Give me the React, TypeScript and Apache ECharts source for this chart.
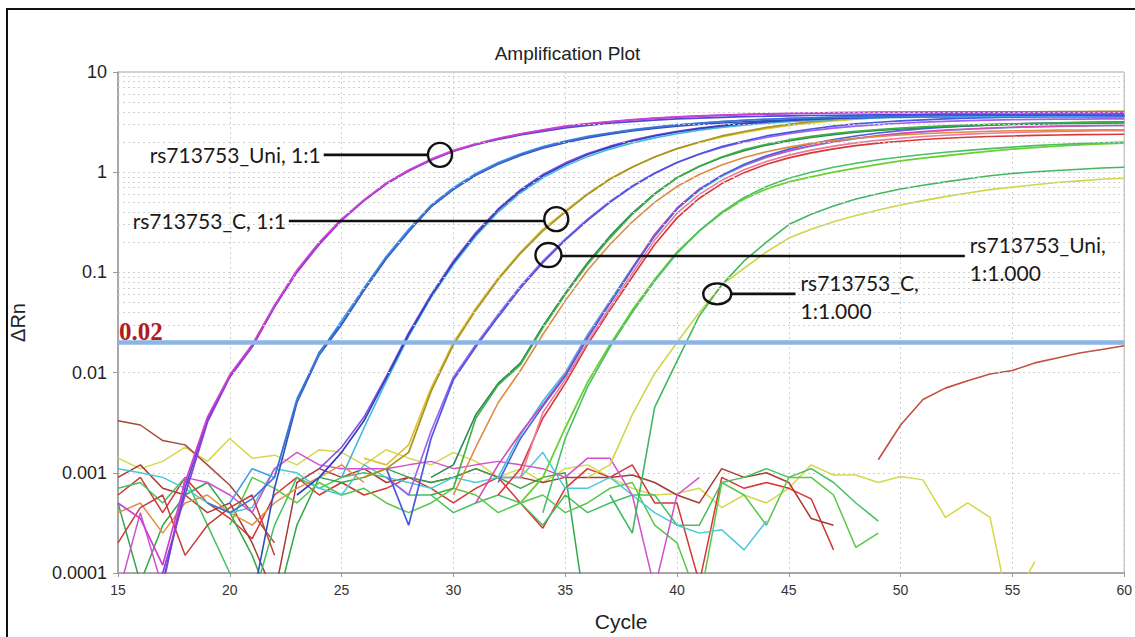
import React, { useEffect, useRef } from 'react';
import * as echarts from 'echarts';

// ---------- axis / labels ----------
const cycleMin = 15;
const cycleMax = 60;
const cycleStep = 5;
const yMin = 0.0001;
const yMax = 10;
const yTickLabels = ['0.0001', '0.001', '0.01', '0.1', '1', '10'];
const thresholdValue = 0.02;
const titleText = 'Amplification Plot';
const xName = 'Cycle';
const yName = 'ΔRn';

// ---------- amplification curves (value per cycle, starting at the given cycle) ----------
const uniA1 = [0.0005, 0.00035, 0.00012, 0.0008, 0.0036, 0.0095, 0.019, 0.047, 0.105, 0.2, 0.34, 0.53, 0.78, 1.05, 1.35, 1.65, 1.92, 2.18, 2.42, 2.65, 2.88, 3.05, 3.2, 3.35, 3.47, 3.57, 3.65, 3.72, 3.78, 3.83, 3.87, 3.9, 3.93, 3.95, 3.97, 3.98, 3.99, 4.0, 4.0, 4.01, 4.01, 4.0, 4.0, 3.99, 3.98, 3.97];
const uniA2 = [0.00006, 0.0001, 0.0006, 0.0032, 0.009, 0.018, 0.045, 0.1, 0.19, 0.33, 0.52, 0.76, 1.03, 1.32, 1.62, 1.9, 2.15, 2.4, 2.62, 2.85, 3.02, 3.18, 3.32, 3.44, 3.54, 3.62, 3.69, 3.75, 3.8, 3.84, 3.87, 3.9, 3.92, 3.93, 3.94, 3.95, 3.95, 3.96, 3.96, 3.95, 3.94, 3.93, 3.92, 3.9, 3.88];
const uniA3 = [0.00008, 0.0007, 0.0034, 0.0092, 0.0185, 0.046, 0.102, 0.195, 0.335, 0.52, 0.77, 1.04, 1.33, 1.62, 1.88, 2.12, 2.35, 2.56, 2.76, 2.93, 3.08, 3.2, 3.31, 3.4, 3.47, 3.53, 3.58, 3.62, 3.65, 3.68, 3.7, 3.72, 3.73, 3.74, 3.75, 3.75, 3.75, 3.74, 3.73, 3.72, 3.71, 3.7, 3.69, 3.68];
const cB1 = [0.0005, 0.0004, 0.00055, 0.0009, 0.0052, 0.016, 0.031, 0.068, 0.14, 0.26, 0.46, 0.68, 0.95, 1.22, 1.5, 1.77, 2.02, 2.25, 2.45, 2.63, 2.8, 2.95, 3.08, 3.2, 3.3, 3.38, 3.45, 3.5, 3.55, 3.59, 3.62, 3.65, 3.67, 3.69, 3.7, 3.71, 3.72, 3.72, 3.72, 3.71, 3.7, 3.69];
const cB2 = [0.0005, 0.0011, 0.0009, 0.0055, 0.0155, 0.033, 0.07, 0.145, 0.27, 0.47, 0.7, 0.97, 1.25, 1.53, 1.8, 2.05, 2.28, 2.48, 2.66, 2.83, 2.98, 3.1, 3.21, 3.3, 3.38, 3.44, 3.49, 3.53, 3.56, 3.58, 3.6, 3.61, 3.62, 3.62, 3.62, 3.61, 3.6, 3.59, 3.58, 3.57, 3.56];
const cB3 = [0.00005, 0.0007, 0.005, 0.015, 0.03, 0.066, 0.137, 0.255, 0.45, 0.67, 0.93, 1.2, 1.47, 1.73, 1.97, 2.2, 2.4, 2.58, 2.74, 2.88, 3.0, 3.1, 3.19, 3.27, 3.34, 3.4, 3.45, 3.49, 3.52, 3.55, 3.57, 3.59, 3.6, 3.61, 3.61, 3.61, 3.6, 3.59, 3.58, 3.57];
const gC1 = [0.0006, 0.0009, 0.0016, 0.0033, 0.0088, 0.024, 0.058, 0.125, 0.24, 0.42, 0.65, 0.92, 1.2, 1.5, 1.78, 2.05, 2.3, 2.52, 2.72, 2.9, 3.05, 3.18, 3.28, 3.37, 3.44, 3.5, 3.55, 3.59, 3.62, 3.64, 3.66, 3.67, 3.68, 3.68, 3.68, 3.67, 3.66, 3.65];
const gC2 = [0.0011, 0.0018, 0.0036, 0.0092, 0.025, 0.06, 0.13, 0.25, 0.43, 0.67, 0.95, 1.24, 1.54, 1.82, 2.09, 2.34, 2.56, 2.76, 2.93, 3.08, 3.21, 3.32, 3.41, 3.49, 3.56, 3.62, 3.67, 3.71, 3.74, 3.76, 3.78, 3.79, 3.8, 3.8, 3.8, 3.79, 3.78];
const gC3 = [0.0009, 0.0028, 0.0082, 0.023, 0.056, 0.12, 0.23, 0.4, 0.62, 0.88, 1.15, 1.43, 1.7, 1.96, 2.2, 2.42, 2.62, 2.8, 2.95, 3.08, 3.19, 3.28, 3.36, 3.42, 3.47, 3.51, 3.54, 3.56, 3.58, 3.59, 3.6, 3.6, 3.6, 3.6, 3.59, 3.58];
const dD1 = [0.0009, 0.0011, 0.0016, 0.0065, 0.019, 0.042, 0.085, 0.155, 0.26, 0.4, 0.6, 0.85, 1.12, 1.42, 1.72, 2.0, 2.3, 2.55, 2.8, 3.0, 3.2, 3.35, 3.48, 3.6, 3.7, 3.78, 3.85, 3.9, 3.94, 3.97, 4.0, 4.02, 4.03, 4.04, 4.05];
const dD2 = [0.0014, 0.0012, 0.0019, 0.007, 0.02, 0.044, 0.088, 0.16, 0.27, 0.41, 0.61, 0.86, 1.13, 1.42, 1.71, 1.98, 2.25, 2.49, 2.72, 2.92, 3.1, 3.25, 3.38, 3.5, 3.6, 3.69, 3.76, 3.82, 3.87, 3.91, 3.94, 3.97, 3.99, 4.0, 4.01];
const eD3 = [0.0011, 0.0003, 0.0022, 0.0085, 0.018, 0.036, 0.07, 0.125, 0.21, 0.33, 0.5, 0.72, 0.97, 1.25, 1.52, 1.8, 2.05, 2.3, 2.5, 2.7, 2.88, 3.03, 3.15, 3.25, 3.33, 3.4, 3.46, 3.5, 3.54, 3.57, 3.59, 3.6, 3.61, 3.62];
const eD4 = [0.0009, 0.0006, 0.0026, 0.009, 0.019, 0.038, 0.073, 0.13, 0.215, 0.34, 0.51, 0.73, 0.98, 1.25, 1.51, 1.77, 2.0, 2.22, 2.42, 2.6, 2.75, 2.88, 2.99, 3.08, 3.16, 3.22, 3.27, 3.31, 3.34, 3.36, 3.38, 3.39, 3.4, 3.4];
const fE1 = [0.0006, 0.0007, 0.0035, 0.0075, 0.012, 0.028, 0.06, 0.12, 0.22, 0.38, 0.6, 0.88, 1.15, 1.42, 1.68, 1.9, 2.1, 2.28, 2.43, 2.56, 2.67, 2.76, 2.84, 2.9, 2.96, 3.0, 3.04, 3.07, 3.1, 3.12, 3.14, 3.15];
const fE2 = [0.0009, 0.0012, 0.0038, 0.0078, 0.0125, 0.029, 0.062, 0.125, 0.23, 0.39, 0.61, 0.88, 1.14, 1.4, 1.64, 1.86, 2.05, 2.22, 2.37, 2.5, 2.61, 2.7, 2.78, 2.85, 2.9, 2.95, 2.99, 3.02, 3.05, 3.07, 3.09, 3.1];
const fE3 = [0.0006, 0.0018, 0.005, 0.0105, 0.024, 0.052, 0.105, 0.19, 0.32, 0.5, 0.72, 0.95, 1.18, 1.4, 1.6, 1.78, 1.94, 2.07, 2.18, 2.27, 2.35, 2.42, 2.48, 2.52, 2.56, 2.59, 2.61, 2.63, 2.64, 2.65, 2.65];
const hF1 = [0.0005, 0.0012, 0.0025, 0.0048, 0.0095, 0.023, 0.05, 0.11, 0.24, 0.44, 0.68, 0.93, 1.18, 1.42, 1.64, 1.84, 2.02, 2.18, 2.32, 2.44, 2.54, 2.63, 2.7, 2.76, 2.81, 2.85, 2.88, 2.9, 2.92, 2.93];
const hF2 = [0.0008, 0.0022, 0.0046, 0.0092, 0.022, 0.049, 0.108, 0.23, 0.43, 0.67, 0.93, 1.2, 1.46, 1.7, 1.92, 2.12, 2.3, 2.46, 2.6, 2.72, 2.82, 2.9, 2.97, 3.03, 3.08, 3.12, 3.15, 3.17, 3.19];
const hF3 = [0.0006, 0.0011, 0.0035, 0.0078, 0.019, 0.042, 0.09, 0.19, 0.35, 0.55, 0.77, 0.99, 1.2, 1.39, 1.56, 1.71, 1.84, 1.95, 2.04, 2.12, 2.18, 2.23, 2.27, 2.3, 2.33, 2.35, 2.37, 2.38, 2.39];
const hF4 = [0.0009, 0.004, 0.0085, 0.02, 0.045, 0.098, 0.21, 0.39, 0.6, 0.83, 1.06, 1.28, 1.48, 1.66, 1.82, 1.96, 2.08, 2.18, 2.27, 2.34, 2.4, 2.45, 2.49, 2.52, 2.55, 2.57, 2.59, 2.6];
const hF5 = [0.0009, 0.0024, 0.0052, 0.01, 0.024, 0.052, 0.112, 0.235, 0.43, 0.66, 0.91, 1.16, 1.4, 1.62, 1.82, 2.0, 2.16, 2.3, 2.42, 2.52, 2.61, 2.68, 2.74, 2.79, 2.83, 2.86, 2.89, 2.91, 2.92];
const iG1 = [0.0005, 0.0009, 0.0028, 0.008, 0.019, 0.042, 0.085, 0.16, 0.26, 0.39, 0.54, 0.68, 0.8, 0.9, 1.0, 1.1, 1.2, 1.3, 1.38, 1.46, 1.54, 1.62, 1.7, 1.76, 1.82, 1.87, 1.92, 1.95];
const iG2 = [0.0004, 0.0022, 0.0072, 0.018, 0.04, 0.082, 0.155, 0.26, 0.4, 0.56, 0.72, 0.87, 1.0, 1.12, 1.23, 1.33, 1.42, 1.5, 1.58, 1.65, 1.72, 1.78, 1.84, 1.89, 1.93, 1.97, 2.0];
const cH1 = [0.0009, 0.0012, 0.0038, 0.0098, 0.02, 0.04, 0.075, 0.11, 0.16, 0.22, 0.27, 0.32, 0.37, 0.42, 0.47, 0.52, 0.57, 0.62, 0.67, 0.71, 0.75, 0.79, 0.82, 0.85, 0.87];
const cH2 = [0.0006, 0.00025, 0.0045, 0.013, 0.037, 0.075, 0.13, 0.2, 0.3, 0.38, 0.46, 0.54, 0.61, 0.68, 0.74, 0.8, 0.86, 0.92, 0.97, 1.01, 1.04, 1.07, 1.1, 1.12];
const lateRed = [0.00135, 0.003, 0.0054, 0.007, 0.0083, 0.0097, 0.0105, 0.0125, 0.014, 0.0157, 0.017, 0.0185];

// ---------- baseline / no-template noise traces ----------
const noiseYellow = [0.0014, 0.0011, 0.0013, 0.0018, 0.0013, 0.0022, 0.0014, 0.0015, 0.0012, 0.0017, 0.0016, 0.0012, 0.0017, 0.0014, 0.0012, 0.0016, 0.0013, 0.0009, 0.0011, 0.0008, 0.0011, 0.0012, 0.0009, 0.0007, 0.0006, 0.00062, 0.0007, 0.00045, 0.0006, 0.0005, 0.0007, 0.0012, 0.00095, 0.00095, 0.0008, 0.00092, 0.00085, 0.00036, 0.0005, 0.00036, 0.00003];
const noiseYellowTail = [0.00005, 0.00013];
const noiseBrown = [0.0033, 0.003, 0.0021, 0.0019, 0.0012, 0.00075, 0.0004, 0.0002];
const noiseRed = [0.0006, 0.0009, 0.0004, 0.0009, 0.0005, 0.00035, 0.00022, 0.0006, 0.0009, 0.0006, 0.0008, 0.0006, 0.0007, 0.0009, 0.0007, 0.0005, 0.0007, 0.0009, 0.0005, 0.00028, 0.0007, 0.0011, 0.0009, 0.0012, 0.0005, 0.0005, 0.00008, 0.0009, 0.0007, 0.0008, 0.0007, 0.00055, 0.00017];
const noiseDarkRed = [0.0009, 0.0012, 0.0007, 0.0006, 0.0004, 0.0005, 0.0002, 0.00006, 0.0008, 0.0011, 0.0009, 0.0011, 0.0008, 0.0009, 0.0008, 0.0009, 0.0011, 0.0009, 0.0009, 0.0008, 0.0009, 0.0009, 0.0009, 0.00095, 0.0008, 0.0006, 0.0005, 0.0011, 0.0009, 0.001, 0.0008, 0.00035, 0.0003];
const noiseGreen1 = [0.0007, 0.0008, 0.0005, 0.0009, 0.0003, 0.0001, 0.00005, 0.0003, 0.0009, 0.0007, 0.0009, 0.001, 0.0009, 0.0006, 0.0006, 0.0004, 0.0005, 0.0006, 0.0005, 0.0003, 0.0006, 0.0004, 0.0005, 0.0006, 0.0006, 0.0003, 0.0003, 0.0008, 0.0009, 0.0011, 0.0009, 0.0011, 0.0008, 0.0005, 0.00033];
const noiseGreen2 = [0.0005, 0.00008, 0.0003, 0.0006, 0.0008, 0.0004, 0.00015, 0.00004, 0.0003, 0.0009, 0.0008, 0.0009, 0.0011, 0.0009, 0.0008, 0.0009, 0.0011, 0.0009, 0.0007, 0.0009, 0.001, 0.00003];
const noiseGreen3 = [0.0003, 0.0009, 0.0007, 0.0005, 0.0008, 0.0006, 0.0007, 0.0005, 0.0004, 0.0005, 0.0007, 0.0006, 0.0004, 0.0005, 0.0006, 0.0004, 0.0005, 0.0007, 0.0008, 0.0003, 0.0002, 0.00005, 0.0008, 0.0006, 0.0003, 0.0009, 0.0009, 0.0006, 0.00018, 0.00025];
const noiseCyan = [0.0011, 0.001, 0.0009, 0.0007, 0.0005, 0.0004, 0.00045, 0.0011, 0.001, 0.0007, 0.0006, 0.0012, 0.0009, 0.0008, 0.0007, 0.0009, 0.0008, 0.0009, 0.0009, 0.0016, 0.0007, 0.0007, 0.0009, 0.0006, 0.0004, 0.0003, 0.00025, 0.00027, 0.00017, 0.00033];
const noiseMagenta = [0.00006, 0.0004, 0.00007, 0.0009, 0.0008, 0.0006, 0.0004, 0.0011, 0.0016, 0.0012, 0.0011, 0.0011, 0.0011, 0.0012, 0.0013, 0.0011, 0.0012, 0.0013, 0.0012, 0.0011, 0.0009, 0.0014, 0.0014, 0.0006, 0.00007, 0.0006, 0.0009];
const noiseOrange = [0.0004, 0.0005, 0.00025, 0.0005, 0.0006, 0.0004, 0.0003, 0.0005, 0.0007, 0.0009, 0.0012, 0.0008];
const noiseRed2 = [0.0002, 0.00045, 0.0006, 0.00015, 0.0003, 0.00045, 0.0006, 0.00015];

// ---------- trace table (values, first cycle, colour) ----------
const traces: { v: number[]; start: number; color: string; w: number }[] = [
  { v: noiseYellow, start: 15, color: '#d6d84a', w: 1.5 },
  { v: noiseYellowTail, start: 55, color: '#d6d84a', w: 1.5 },
  { v: noiseBrown, start: 15, color: '#a84a3a', w: 1.5 },
  { v: noiseRed, start: 15, color: '#d83434', w: 1.5 },
  { v: noiseDarkRed, start: 15, color: '#a83c34', w: 1.5 },
  { v: noiseGreen1, start: 15, color: '#44c060', w: 1.5 },
  { v: noiseGreen2, start: 15, color: '#30a848', w: 1.5 },
  { v: noiseGreen3, start: 20, color: '#58c848', w: 1.5 },
  { v: noiseCyan, start: 15, color: '#48c8d8', w: 1.5 },
  { v: noiseMagenta, start: 15, color: '#d050d0', w: 1.5 },
  { v: noiseOrange, start: 15, color: '#e09040', w: 1.5 },
  { v: noiseRed2, start: 15, color: '#c83c3c', w: 1.5 },
  { v: cH1, start: 36, color: '#cfd648', w: 1.6 },
  { v: cH2, start: 37, color: '#40b860', w: 1.6 },
  { v: iG1, start: 33, color: '#6cd034', w: 1.8 },
  { v: iG2, start: 34, color: '#48c068', w: 1.6 },
  { v: hF3, start: 32, color: '#d83838', w: 1.6 },
  { v: hF4, start: 33, color: '#f07898', w: 1.6 },
  { v: hF5, start: 32, color: '#40c0e0', w: 1.6 },
  { v: hF1, start: 31, color: '#d848b8', w: 1.6 },
  { v: hF2, start: 32, color: '#4a60e0', w: 1.6 },
  { v: fE3, start: 30, color: '#e08a40', w: 1.6 },
  { v: fE2, start: 29, color: '#2a8a5a', w: 1.6 },
  { v: fE1, start: 29, color: '#3cb043', w: 1.6 },
  { v: eD4, start: 27, color: '#a060f0', w: 1.7 },
  { v: eD3, start: 27, color: '#4858e0', w: 1.7 },
  { v: dD2, start: 26, color: '#e0c030', w: 1.6 },
  { v: dD1, start: 26, color: '#a89420', w: 1.7 },
  { v: gC3, start: 25, color: '#40b8e0', w: 1.6 },
  { v: gC2, start: 24, color: '#8a50e0', w: 1.6 },
  { v: gC1, start: 23, color: '#3040c0', w: 1.7 },
  { v: cB3, start: 21, color: '#3050b8', w: 1.6 },
  { v: cB2, start: 20, color: '#40a0e8', w: 1.6 },
  { v: cB1, start: 19, color: '#3f6fd8', w: 1.6 },
  { v: uniA3, start: 17, color: '#5048d8', w: 1.7 },
  { v: uniA2, start: 16, color: '#8a3fd8', w: 1.7 },
  { v: uniA1, start: 15, color: '#d040d0', w: 1.7 },
  { v: lateRed, start: 49, color: '#c05040', w: 1.6 },
];

// ---------- call-outs (data coordinates) ----------
const callouts = [
  { lines: ['rs713753_Uni, 1:1'], at: [29.4, 1.49], lineY: 1.49, end: 24.2, side: 'left', r: [12, 12] },
  { lines: ['rs713753_C, 1:1'], at: [34.6, 0.34], lineY: 0.326, end: 22.64, side: 'left', r: [12, 12] },
  { lines: ['rs713753_Uni,', '1:1.000'], at: [34.25, 0.149], lineY: 0.146, end: 52.87, side: 'right', r: [13, 12] },
  { lines: ['rs713753_C,', '1:1.000'], at: [41.8, 0.061], lineY: 0.061, end: 45.3, side: 'right', r: [14, 10.5] },
];

export default function App() {
  const ref = useRef<HTMLDivElement>(null);

  useEffect(() => {
    if (!ref.current) return;
    const chart = echarts.init(ref.current, undefined, { renderer: 'svg' });

    const minorGrid: number[] = [];
    for (let d = -4; d < 1; d++) {
      for (let k = 2; k <= 9; k++) minorGrid.push(k * Math.pow(10, d));
    }

    const axisFont = "'Liberation Sans', Arial, sans-serif";

    const series: any[] = [
      {
        type: 'line',
        name: 'grid',
        data: [[cycleMin, yMax]],
        showSymbol: false,
        lineStyle: { opacity: 0 },
        silent: true,
        z: 1,
        markLine: {
          silent: true,
          symbol: 'none',
          label: { show: false },
          lineStyle: { color: '#d0d0d0', type: [2, 3], width: 1 },
          data: minorGrid.map((v) => ({ yAxis: v })),
        },
      },
      ...traces.map((t, i) => ({
        type: 'line',
        name: 't' + i,
        data: t.v.map((v, j) => [t.start + j, v]),
        showSymbol: false,
        symbol: 'none',
        clip: true,
        z: 2,
        lineStyle: { color: t.color, width: t.w },
        itemStyle: { color: t.color },
      })),
      {
        type: 'line',
        name: 'threshold',
        data: [
          [cycleMin, thresholdValue],
          [cycleMax, thresholdValue],
        ],
        showSymbol: false,
        symbol: 'none',
        z: 5,
        lineStyle: { color: '#8db4e4', width: 4.5 },
      },
    ];

    chart.setOption({
      animation: false,
      backgroundColor: '#ffffff',
      title: {
        text: titleText,
        left: 'center',
        top: 39,
        textStyle: { fontFamily: axisFont, fontSize: 19, fontWeight: 'normal', color: '#222' },
      },
      grid: {
        left: 118,
        right: 2,
        top: 72,
        bottom: 64,
        show: true,
        borderColor: '#a8a8a8',
        borderWidth: 1,
        backgroundColor: '#fff',
      },
      xAxis: {
        type: 'value',
        min: cycleMin,
        max: cycleMax,
        interval: cycleStep,
        name: xName,
        nameLocation: 'middle',
        nameGap: 38,
        nameTextStyle: { fontFamily: axisFont, fontSize: 21, color: '#222' },
        axisLine: { lineStyle: { color: '#999', width: 1.5 } },
        axisTick: { show: true, length: 4, lineStyle: { color: '#999' } },
        axisLabel: { fontFamily: axisFont, fontSize: 14, color: '#333', margin: 10 },
        splitLine: { show: true, lineStyle: { color: '#d0d0d0', type: [2, 3] } },
      },
      yAxis: {
        type: 'log',
        logBase: 10,
        min: yMin,
        max: yMax,
        name: yName,
        nameLocation: 'middle',
        nameGap: 90,
        nameRotate: 90,
        nameTextStyle: { fontFamily: axisFont, fontSize: 20, color: '#222' },
        axisLine: { show: true, lineStyle: { color: '#999', width: 1.5 } },
        axisTick: { show: true, length: 5, lineStyle: { color: '#999' } },
        axisLabel: {
          fontFamily: axisFont,
          fontSize: 18,
          color: '#222',
          margin: 11,
          formatter: (v: number) => yTickLabels[Math.round(Math.log10(v)) + 4] ?? '',
        },
        splitLine: { show: true, lineStyle: { color: '#d0d0d0', type: [2, 3] } },
      },
      series,
    });

    const px = (p: number[]) => chart.convertToPixel({ gridIndex: 0 }, p) as number[];
    const labelFont = "Lato, 'Open Sans', sans-serif";
    const graphics: any[] = [
      {
        type: 'rect',
        shape: { x: 7, y: 9, width: 1200, height: 700 },
        style: { fill: 'none', stroke: '#111', lineWidth: 2 },
        z: 100,
        silent: true,
      },
    ];
    const tp = px([cycleMin, thresholdValue]);
    graphics.push({
      type: 'text',
      x: tp[0] + 1,
      y: tp[1] + 2,
      z: 100,
      style: {
        text: '0.02',
        fill: '#b01c1c',
        font: "bold 25px 'Liberation Serif', 'DejaVu Serif', serif",
        textAlign: 'left',
        textVerticalAlign: 'bottom',
      },
    });
    callouts.forEach((c) => {
      const cp = px(c.at);
      const ly = px([c.at[0], c.lineY])[1];
      const ex = px([c.end, c.lineY])[0];
      const rx = c.r[0];
      const ry = c.r[1];
      graphics.push({
        type: 'ellipse',
        z: 100,
        shape: { cx: cp[0], cy: cp[1], rx, ry },
        style: { fill: 'none', stroke: '#111', lineWidth: 2.4 },
      });
      const x1 = c.side === 'left' ? ex : cp[0] + rx;
      const x2 = c.side === 'left' ? cp[0] - rx : ex;
      graphics.push({
        type: 'line',
        z: 100,
        shape: { x1, y1: ly, x2, y2: ly },
        style: { stroke: '#111', lineWidth: 2.6 },
      });
      if (c.side === 'left') {
        graphics.push({
          type: 'text',
          z: 100,
          x: ex - 3,
          y: ly,
          style: {
            text: c.lines[0],
            fill: '#1a1a1a',
            font: `21px ${labelFont}`,
            textAlign: 'right',
            textVerticalAlign: 'middle',
          },
        });
      } else {
        c.lines.forEach((t, k) => {
          graphics.push({
            type: 'text',
            z: 100,
            x: ex + 5,
            y: ly - 11 + k * 27.5,
            style: {
              text: t,
              fill: '#1a1a1a',
              font: `21px ${labelFont}`,
              textAlign: 'left',
              textVerticalAlign: 'middle',
            },
          });
        });
      }
    });
    chart.setOption({ graphic: graphics });

    return () => chart.dispose();
  }, []);

  return (
    <div
      ref={ref}
      style={{ position: 'fixed', left: 0, top: 0, width: 1135, height: 637, background: '#fff' }}
    />
  );
}
